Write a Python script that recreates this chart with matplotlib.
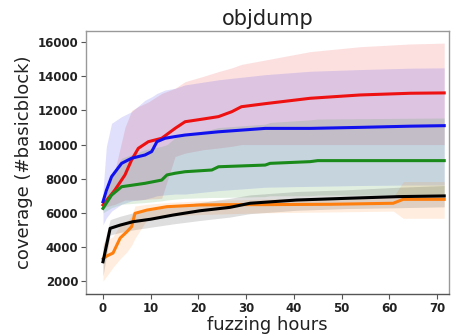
import matplotlib
matplotlib.use("Agg")
import matplotlib.pyplot as plt

# ---- data ----
red_t    = [0, 2.5, 4.6, 6, 7.4, 9.5, 12.3, 15.1, 17.2, 21, 24.2, 27, 29, 34, 43.4, 53.9, 64.4, 71.5]
red_mean = [6460, 7340, 8220, 9100, 9780, 10170, 10370, 10950, 11340, 11500, 11640, 11930, 12220, 12400, 12715, 12910, 13010, 13030]
red_lo   = [6300, 6500, 6750, 6750, 6750, 6800, 6850, 9300, 9500, 9700, 9800, 9900, 10000, 10000, 10000, 10000, 10000, 10000]
red_hi   = [6600, 8500, 11000, 12000, 12230, 12500, 13000, 13300, 13690, 14000, 14280, 14500, 14700, 14960, 15450, 15740, 15900, 15950]

blue_t    = [0, 0.7, 1.8, 3.9, 6, 8.8, 10.2, 11.3, 13, 15.1, 17.2, 24.2, 34, 43.4, 53.9, 64.4, 71.5]
blue_mean = [6650, 7300, 8120, 8900, 9200, 9390, 9590, 10170, 10370, 10470, 10560, 10750, 10950, 10950, 11010, 11080, 11110]
blue_lo   = [5300, 5700, 6100, 6500, 6700, 6800, 6900, 7000, 7050, 7100, 7100, 7300, 7500, 7550, 7600, 7630, 7630]
blue_hi   = [7300, 9880, 11250, 11640, 11930, 12600, 12800, 13000, 13200, 13300, 13500, 13800, 14100, 14300, 14400, 14480, 14500]

green_t    = [0, 1.8, 3.9, 8.8, 12.3, 13.4, 15.1, 17.2, 22.8, 24.2, 34, 35, 43.4, 45, 71.5]
green_mean = [6260, 7040, 7530, 7730, 7920, 8220, 8320, 8410, 8510, 8700, 8800, 8900, 9000, 9060, 9060]
green_lo   = [6000, 6300, 6500, 6600, 6700, 6750, 6800, 6850, 6900, 6900, 6950, 7000, 7000, 7040, 7040]
green_hi   = [6400, 8300, 9200, 9700, 9900, 10000, 10400, 10600, 10900, 11000, 11200, 11300, 11450, 11500, 11560]

orange_t    = [0, 0.8, 2.1, 3.6, 5, 6, 6.7, 9.2, 13.4, 20.3, 26.6, 33.6, 47.6, 60.8, 62.9, 71.5]
orange_mean = [3300, 3470, 3640, 4520, 4890, 5190, 5970, 6160, 6360, 6460, 6480, 6480, 6500, 6560, 6790, 6790]
orange_lo   = [2000, 2300, 2800, 3300, 3700, 4100, 4500, 5600, 5800, 5900, 5950, 6000, 6050, 6100, 5680, 5680]
orange_hi   = [4200, 4400, 4600, 5300, 5500, 5800, 6400, 6500, 6600, 6700, 6750, 6800, 6850, 6900, 7830, 7830]

black_t    = [0, 1.5, 3.6, 6.3, 9.9, 14.7, 20.3, 26.6, 30.8, 40.6, 51, 62, 71.5]
black_mean = [3130, 5090, 5280, 5480, 5620, 5870, 6120, 6320, 6560, 6750, 6850, 6950, 6990]
black_lo   = [2300, 4700, 4850, 5000, 5150, 5350, 5550, 5750, 5950, 6150, 6250, 6300, 6350]
black_hi   = [4000, 5600, 5800, 6000, 6150, 6400, 6600, 6850, 7050, 7250, 7350, 7500, 7600]

series = [
    (red_t, red_mean, red_lo, red_hi, "#ee1111"),
    (blue_t, blue_mean, blue_lo, blue_hi, "#1111ee"),
    (green_t, green_mean, green_lo, green_hi, "#1a8a1a"),
    (orange_t, orange_mean, orange_lo, orange_hi, "#ff7f0e"),
    (black_t, black_mean, black_lo, black_hi, "#000000"),
]

title = "objdump"
xlabel = "fuzzing hours"
ylabel = "coverage (#basicblock)"
xticks = [0, 10, 20, 30, 40, 50, 60, 70]
yticks = [2000, 4000, 6000, 8000, 10000, 12000, 14000, 16000]

fig = plt.figure(figsize=(4.59, 3.36), dpi=100)
ax = fig.add_axes([86/459, 1-294/336, (449-86)/459, (294-31)/336])

for t, m, lo, hi, c in series:
    ax.fill_between(t, lo, hi, color=c, alpha=0.13, linewidth=0)
for t, m, lo, hi, c in series:
    ax.plot(t, m, color=c, linewidth=2.2)

ax.set_xlim(-3.56, 72.5)
ax.set_ylim(1240, 16660)
ax.set_xticks(xticks)
ax.set_yticks(yticks)
for lab in ax.get_xticklabels() + ax.get_yticklabels():
    lab.set_fontweight("bold")
    lab.set_color("#222222")
ax.tick_params(labelsize=8.5, color="#555555", length=3.5, width=0.8, pad=2)
for s in ax.spines.values():
    s.set_color("#999999")
    s.set_linewidth(1.0)
ax.spines["bottom"].set_color("#555555")
ax.set_title(title, fontsize=15, pad=4, color="#222222")
ax.set_xlabel(xlabel, fontsize=13, labelpad=1, color="#222222")
ax.set_ylabel(ylabel, fontsize=13, labelpad=3, color="#222222")

fig.savefig("out.png", dpi=100)
